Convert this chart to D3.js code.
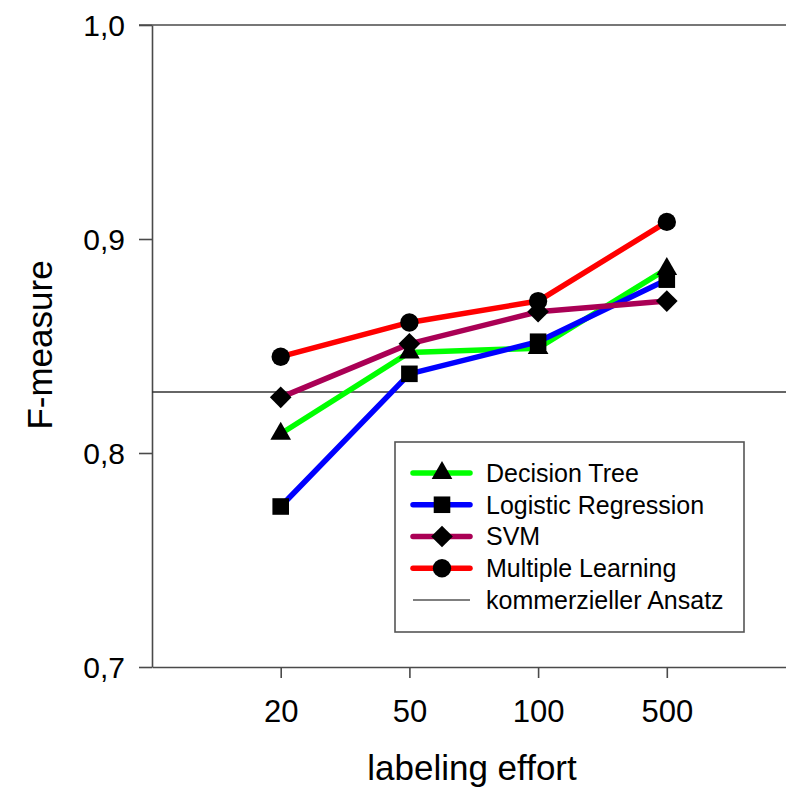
<!DOCTYPE html>
<html>
<head>
<meta charset="utf-8">
<script src="https://cdn.jsdelivr.net/npm/d3@7"></script>
<style>
  body { margin: 0; background: #fff; }
  svg { display: block; font-family: "Liberation Sans", Arial, sans-serif; }
</style>
</head>
<body>
<svg id="chart" width="786" height="787"></svg>
<script>
// categories on the x axis (labeling effort)
var efforts = ["20", "50", "100", "500"];

// F-measure per series
var decisionTree = [0.809, 0.847, 0.849, 0.886];
var logisticRegression = [0.775, 0.837, 0.852, 0.881];
var svm = [0.826, 0.851, 0.866, 0.871];
var multipleLearning = [0.845, 0.861, 0.871, 0.908];
var commercial = 0.8285;

var yTicks = [0.7, 0.8, 0.9, 1.0];

var series = [
  { name: "Decision Tree", values: decisionTree, color: "#00ff00", symbol: "triangle" },
  { name: "Logistic Regression", values: logisticRegression, color: "#0000ff", symbol: "square" },
  { name: "SVM", values: svm, color: "#aa0055", symbol: "diamond" },
  { name: "Multiple Learning", values: multipleLearning, color: "#ff0000", symbol: "circle" }
];

var svg = d3.select("#chart");

var plotLeft = 152, plotTop = 25, plotBottom = 667;

var x = d3.scaleLinear().domain([0, efforts.length + 1]).range([plotLeft, 795.5]);
var y = d3.scaleLinear().domain([0.7, 1.0]).range([plotBottom, plotTop]);

var axisColor = "#4a4a4a";

// top border line
svg.append("line")
  .attr("x1", 139).attr("x2", 786)
  .attr("y1", y(1.0)).attr("y2", y(1.0))
  .attr("stroke", axisColor).attr("stroke-width", 1.6);

// y axis
var yAxis = svg.append("g")
  .attr("transform", "translate(" + plotLeft + ",0)")
  .call(d3.axisLeft(y).tickValues(yTicks).tickSize(13).tickSizeOuter(0).tickPadding(14)
    .tickFormat(function(d) { return d3.format(".1f")(d).replace(".", ","); }));
yAxis.select(".domain").attr("stroke", axisColor).attr("stroke-width", 1.6);
yAxis.selectAll(".tick line").attr("stroke", axisColor).attr("stroke-width", 1.6);
yAxis.selectAll(".tick text")
  .attr("font-size", 30).attr("font-family", "Liberation Sans, Arial, sans-serif")
  .attr("fill", "#000").attr("dy", "0.35em");

// x axis
var xAxis = svg.append("g")
  .attr("transform", "translate(0," + plotBottom + ")")
  .call(d3.axisBottom(x).tickValues(d3.range(1, efforts.length + 1)).tickSize(11).tickSizeOuter(0).tickPadding(22)
    .tickFormat(function(d) { return efforts[d - 1]; }));
xAxis.select(".domain").attr("stroke", axisColor).attr("stroke-width", 1.6);
xAxis.selectAll(".tick line").attr("stroke", axisColor).attr("stroke-width", 1.6);
xAxis.selectAll(".tick text")
  .attr("font-size", 31).attr("font-family", "Liberation Sans, Arial, sans-serif")
  .attr("fill", "#000");

// axis titles
svg.append("text")
  .attr("x", 472).attr("y", 780)
  .attr("text-anchor", "middle")
  .attr("font-size", 35)
  .text("labeling effort");

svg.append("text")
  .attr("transform", "translate(52,345)rotate(-90)")
  .attr("text-anchor", "middle")
  .attr("font-size", 35)
  .text("F-measure");

// commercial reference line
svg.append("line")
  .attr("x1", plotLeft).attr("x2", 786)
  .attr("y1", y(commercial)).attr("y2", y(commercial))
  .attr("stroke", "#333").attr("stroke-width", 1.6);

function symbolPath(kind) {
  if (kind === "triangle") return d3.symbol().type(d3.symbolTriangle).size(185)();
  if (kind === "square") return d3.symbol().type(d3.symbolSquare).size(275)();
  if (kind === "diamond") return d3.symbol().type(d3.symbolSquare).size(235)();
  return d3.symbol().type(d3.symbolCircle).size(265)();
}

function symbolTransform(kind, px, py) {
  var t = "translate(" + px + "," + py + ")";
  if (kind === "diamond") t += "rotate(45)";
  return t;
}

var line = d3.line()
  .x(function(d, i) { return x(i + 1); })
  .y(function(d) { return y(d); });

series.forEach(function(s) {
  svg.append("path")
    .datum(s.values)
    .attr("d", line)
    .attr("fill", "none")
    .attr("stroke", s.color)
    .attr("stroke-width", 5.5)
    .attr("stroke-linejoin", "round");

  svg.selectAll(".m-" + s.symbol).data(s.values)
    .enter().append("path")
      .attr("class", "m-" + s.symbol)
      .attr("d", symbolPath(s.symbol))
      .attr("transform", function(d, i) { return symbolTransform(s.symbol, x(i + 1), y(d)); })
      .attr("fill", "#000");
});

// legend
var legend = svg.append("g");
legend.append("rect")
  .attr("x", 395).attr("y", 442)
  .attr("width", 349).attr("height", 190)
  .attr("fill", "#fff")
  .attr("stroke", "#555").attr("stroke-width", 1.6);

var rowY = d3.scaleLinear().domain([0, 4]).range([473, 600]);

series.forEach(function(s, i) {
  var ly = rowY(i);
  legend.append("line")
    .attr("x1", 413).attr("x2", 470)
    .attr("y1", ly).attr("y2", ly)
    .attr("stroke", s.color).attr("stroke-width", 5.5)
    .attr("stroke-linecap", "round");
  legend.append("path")
    .attr("d", symbolPath(s.symbol))
    .attr("transform", symbolTransform(s.symbol, 442, ly))
    .attr("fill", "#000");
  legend.append("text")
    .attr("x", 486).attr("y", ly)
    .attr("dy", "0.35em")
    .attr("font-size", 25)
    .text(s.name);
});

legend.append("line")
  .attr("x1", 413).attr("x2", 470)
  .attr("y1", rowY(4)).attr("y2", rowY(4))
  .attr("stroke", "#000").attr("stroke-width", 1.2);
legend.append("text")
  .attr("x", 486).attr("y", rowY(4))
  .attr("dy", "0.35em")
  .attr("font-size", 25)
  .text("kommerzieller Ansatz");
</script>
</body>
</html>
